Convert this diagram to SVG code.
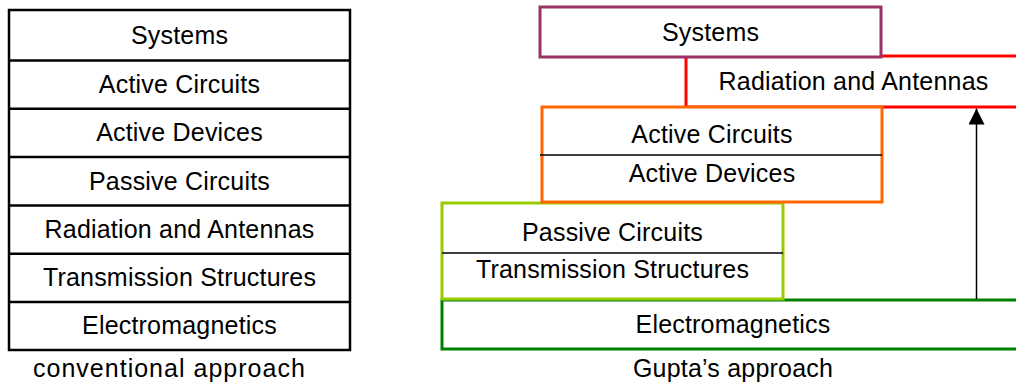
<svg xmlns="http://www.w3.org/2000/svg" width="1016" height="383" viewBox="0 0 1016 383">
<defs>
<style>
text{font-family:"Liberation Sans",Arial,sans-serif;font-size:25px;letter-spacing:0.2px;fill:#000;text-anchor:middle}
.blk{fill:#fff;stroke:#000;stroke-width:2.5}
.div{stroke:#000;stroke-width:1.5;fill:none}
.sep{stroke:#000;stroke-width:2.5;fill:none}
</style>
<marker id="ah" markerWidth="17" markerHeight="16" refX="16" refY="8" orient="auto" markerUnits="userSpaceOnUse">
<path d="M0,0 L16,8 L0,16 Z" fill="#000"/>
</marker>
</defs>
<rect width="1016" height="383" fill="#fff"/>

<g id="conventional">
<rect class="blk" x="9" y="10" width="341" height="340"/>
<line class="sep" x1="9" y1="60.5" x2="350" y2="60.5"/>
<line class="sep" x1="9" y1="108.8" x2="350" y2="108.8"/>
<line class="sep" x1="9" y1="157.1" x2="350" y2="157.1"/>
<line class="sep" x1="9" y1="205.4" x2="350" y2="205.4"/>
<line class="sep" x1="9" y1="253.7" x2="350" y2="253.7"/>
<line class="sep" x1="9" y1="302" x2="350" y2="302"/>
<text x="179.5" y="44">Systems</text>
<text x="179.5" y="93">Active Circuits</text>
<text x="179.5" y="141">Active Devices</text>
<text x="179.5" y="189.5">Passive Circuits</text>
<text x="179.5" y="238">Radiation and Antennas</text>
<text x="179.5" y="286">Transmission Structures</text>
<text x="179.5" y="334">Electromagnetics</text>
<text x="169.5" y="377" textLength="272" lengthAdjust="spacing" style="text-anchor:start" transform="translate(-136.5,0)">conventional approach</text>
</g>

<g id="radiation">
<rect x="686" y="56" width="350" height="51" fill="#fff" stroke="#FF0000" stroke-width="3"/>
<text x="853.5" y="90">Radiation and Antennas</text>
</g>

<g id="electromagnetics">
<rect x="442" y="300" width="600" height="49" fill="#fff" stroke="#008000" stroke-width="3"/>
<text x="733" y="333">Electromagnetics</text>
</g>

<g id="systems">
<rect x="540" y="7" width="341" height="50" fill="#fff" stroke="#993366" stroke-width="3"/>
<text x="710.5" y="41">Systems</text>
</g>

<g id="passive">
<rect x="442" y="203" width="341" height="96" fill="#fff" stroke="#99CC00" stroke-width="3"/>
<line class="div" x1="442" y1="253" x2="783" y2="253"/>
<text x="612.5" y="241">Passive Circuits</text>
<text x="612.5" y="278">Transmission Structures</text>
</g>

<g id="active">
<rect x="542" y="107" width="340" height="95" fill="#fff" stroke="#FF6600" stroke-width="3"/>
<line class="div" x1="540" y1="155" x2="882" y2="155"/>
<text x="712" y="143">Active Circuits</text>
<text x="712" y="182">Active Devices</text>
</g>

<g id="connectors">
<line x1="976.5" y1="299" x2="976.5" y2="108.5" stroke="#000" stroke-width="1.5" marker-end="url(#ah)"/>
</g>

<text x="733" y="377">Gupta’s approach</text>
</svg>
